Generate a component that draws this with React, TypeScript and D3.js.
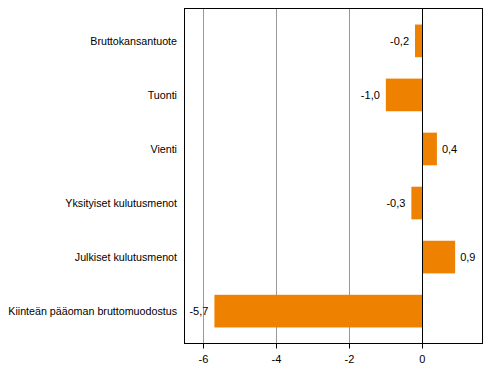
import React from "react";
import * as d3 from "d3";

const categories = [
  "Bruttokansantuote",
  "Tuonti",
  "Vienti",
  "Yksityiset kulutusmenot",
  "Julkiset kulutusmenot",
  "Kiinteän pääoman bruttomuodostus",
];
const values = [-0.2, -1.0, 0.4, -0.3, 0.9, -5.7];
const ticks = [-6, -4, -2, 0];

const W = 491, H = 378;
const left = 184.5, right = 482.5, top = 8.5, bottom = 343.5;

export default function App() {
  const x = d3.scaleLinear().domain([-6.52, 1.65]).range([left, right]);
  const y = d3.scaleBand<string>().domain(categories).range([top, bottom]).paddingInner(0.396).paddingOuter(0.297);
  const fmt = (v: number) => v.toFixed(1).replace(".", ",");
  const font = "'Liberation Sans', Arial, sans-serif";
  return (
    <svg width={W} height={H} style={{ position: "absolute", left: 0, top: 0 }} fontFamily={font} fontSize={11}>
      <rect width={W} height={H} fill="#fff" />
      {ticks.filter(t => t !== 0).map(t => (
        <line key={t} x1={Math.round(x(t)) + 0.5} x2={Math.round(x(t)) + 0.5} y1={top} y2={bottom} stroke="#999" />
      ))}
      {values.map((v, i) => {
        const c = categories[i];
        const x0 = x(Math.min(0, v)), x1 = x(Math.max(0, v));
        const yc = (y(c) as number) + y.bandwidth() / 2;
        return (
          <g key={c}>
            <rect x={x0} y={y(c)} width={x1 - x0} height={y.bandwidth()} fill="#EE8100" />
            <text x={v < 0 ? x0 - 6 : x1 + 5} y={yc} dy="0.35em" textAnchor={v < 0 ? "end" : "start"} fill="#000">{fmt(v)}</text>
            <text x={177} y={yc} dy="0.35em" textAnchor="end" fill="#000" fontSize={10.7}>{c}</text>
          </g>
        );
      })}
      <line x1={Math.round(x(0)) + 0.5} x2={Math.round(x(0)) + 0.5} y1={top} y2={bottom} stroke="#000" />
      <rect x={left} y={top} width={right - left} height={bottom - top} fill="none" stroke="#000" />
      {ticks.map(t => (
        <g key={t}>
          <line x1={Math.round(x(t)) + 0.5} x2={Math.round(x(t)) + 0.5} y1={bottom} y2={bottom + 5} stroke="#000" />
          <text x={x(t)} y={bottom + 16} dy="0.35em" textAnchor="middle" fill="#000">{t === 0 ? "0" : "-" + Math.abs(t)}</text>
        </g>
      ))}
    </svg>
  );
}
